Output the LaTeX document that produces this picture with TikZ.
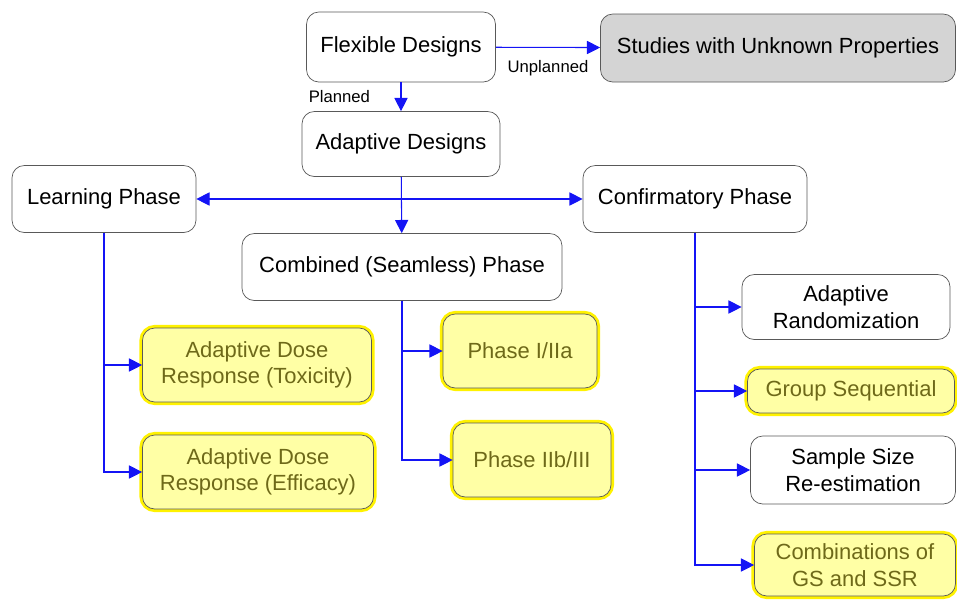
\documentclass[tikz,border=0pt]{standalone}
\usepackage{fontspec}
\setmainfont{Liberation Sans}
\usetikzlibrary{arrows.meta, positioning}
\definecolor{linkblue}{RGB}{20,20,245}
\definecolor{hlfill}{RGB}{255,255,165}
\definecolor{hltext}{RGB}{110,105,25}

\begin{document}
\begin{tikzpicture}[
  x=0.02cm, y=-0.02cm,
  every node/.style={font=\fontsize{12.5}{15}\selectfont},
  box/.style={draw=black!65, rounded corners=7pt, align=center, fill=white},
  greybox/.style={box, fill=black!17},
  hlbox/.style={box, fill=hlfill, text=hltext,
    preaction={draw=yellow, line width=3.5pt}},
  link/.style={draw=linkblue, line width=0.6pt, -{Triangle[length=7.5pt, width=7.5pt]}},
  tag/.style={font=\fontsize{9.5}{11}\selectfont},
]
\useasboundingbox (0,0) rectangle (957,600);

% top level
\node[box, minimum width=189*0.02cm, minimum height=70*0.02cm] (flex) at (401,47) {Flexible Designs};
\node[greybox, minimum width=355*0.02cm, minimum height=68*0.02cm] (unknown) at (778,48) {Studies with Unknown Properties};
\node[box, minimum width=198*0.02cm, minimum height=65*0.02cm] (adapt) at (401,144) {Adaptive Designs};

% phases
\node[box, minimum width=184*0.02cm, minimum height=67*0.02cm] (learn) at (104,199) {Learning Phase};
\node[box, minimum width=224*0.02cm, minimum height=67*0.02cm] (confirm) at (695,199) {Confirmatory Phase};
\node[box, minimum width=320*0.02cm, minimum height=67*0.02cm] (combined) at (402,267) {Combined (Seamless) Phase};

% learning phase children
\node[hlbox, minimum width=229*0.02cm, minimum height=74*0.02cm] (tox) at (257,365) {Adaptive Dose\\Response (Toxicity)};
\node[hlbox, minimum width=231*0.02cm, minimum height=74*0.02cm] (eff) at (258,472) {Adaptive Dose\\Response (Efficacy)};

% combined phase children
\node[hlbox, minimum width=154*0.02cm, minimum height=74*0.02cm] (ph1) at (520,351) {Phase I/IIa};
\node[hlbox, minimum width=158*0.02cm, minimum height=74*0.02cm] (ph2) at (532,460) {Phase IIb/III};

% confirmatory phase children
\node[box, minimum width=208*0.02cm, minimum height=65*0.02cm] (rand) at (846,307) {Adaptive\\Randomization};
\node[hlbox, minimum width=207*0.02cm, minimum height=44*0.02cm] (gs) at (851,391) {Group Sequential};
\node[box, minimum width=205*0.02cm, minimum height=68*0.02cm] (ssr) at (853,470) {Sample Size\\Re-estimation};
\node[hlbox, minimum width=201*0.02cm, minimum height=62*0.02cm] (combo) at (855,565) {Combinations of\\GS and SSR};

% connectors
\draw[link] (flex) -- node[tag, below=4pt] {Unplanned} (unknown);
\draw[link] (flex) -- node[tag, left=14pt] {Planned} (adapt);
\draw[link, {Triangle[length=7.5pt, width=7.5pt]}-{Triangle[length=7.5pt, width=7.5pt]}] (learn) -- (confirm);
\draw[link] (adapt) -- (combined);

\draw[link] (learn.south) |- (tox.west);
\draw[link] (learn.south) |- (eff.west);

\draw[link] (combined.south) |- (ph1.west);
\draw[link] (combined.south) |- (ph2.west);

\draw[link] (confirm.south) |- (rand.west);
\draw[link] (confirm.south) |- (gs.west);
\draw[link] (confirm.south) |- (ssr.west);
\draw[link] (confirm.south) |- (combo.west);
\end{tikzpicture}
\end{document}
